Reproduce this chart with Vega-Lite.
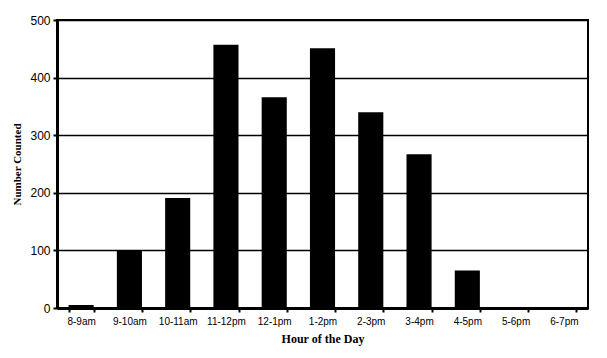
{
  "$schema": "https://vega.github.io/schema/vega-lite/v6.json",
  "width": 531,
  "height": 288,
  "autosize": {"type": "none"},
  "padding": {"left": 57, "top": 20, "right": 19, "bottom": 50},
  "background": "white",
  "config": {"view": {"stroke": "black", "strokeWidth": 2}},
  "data": {"values": [
    {"hour": "8-9am", "count": 5},
    {"hour": "9-10am", "count": 100},
    {"hour": "10-11am", "count": 191},
    {"hour": "11-12pm", "count": 457},
    {"hour": "12-1pm", "count": 366},
    {"hour": "1-2pm", "count": 451},
    {"hour": "2-3pm", "count": 340},
    {"hour": "3-4pm", "count": 267},
    {"hour": "4-5pm", "count": 65},
    {"hour": "5-6pm", "count": 0},
    {"hour": "6-7pm", "count": 0}
  ]},
  "mark": {"type": "bar", "color": "black"},
  "encoding": {
    "x": {
      "field": "hour", "type": "nominal", "sort": null,
      "scale": {"paddingInner": 0.48, "paddingOuter": 0.24},
      "axis": {
        "title": "Hour of the Day", "titleFont": "Liberation Serif", "titleFontWeight": "bold",
        "titleFontSize": 12, "titleColor": "black", "titlePadding": 7,
        "labelAngle": 0, "labelFont": "Liberation Sans", "labelFontSize": 10, "labelColor": "black",
        "labelPadding": 4,
        "domainColor": "black", "domainWidth": 3, "tickColor": "black", "tickWidth": 2, "tickSize": 4,
        "tickBand": "extent"
      }
    },
    "y": {
      "field": "count", "type": "quantitative",
      "scale": {"domain": [0, 500], "nice": false},
      "axis": {
        "title": "Number Counted", "titleFont": "Liberation Serif", "titleFontWeight": "bold",
        "titleFontSize": 11, "titleColor": "black", "titlePadding": 7,
        "values": [0, 100, 200, 300, 400, 500],
        "labelFont": "Liberation Sans", "labelFontSize": 12, "labelColor": "black", "labelPadding": 3,
        "domainColor": "black", "domainWidth": 3, "tickColor": "black", "tickWidth": 2, "tickSize": 4,
        "grid": true, "gridColor": "black", "gridWidth": 1.5, "gridOpacity": 1
      }
    }
  }
}
